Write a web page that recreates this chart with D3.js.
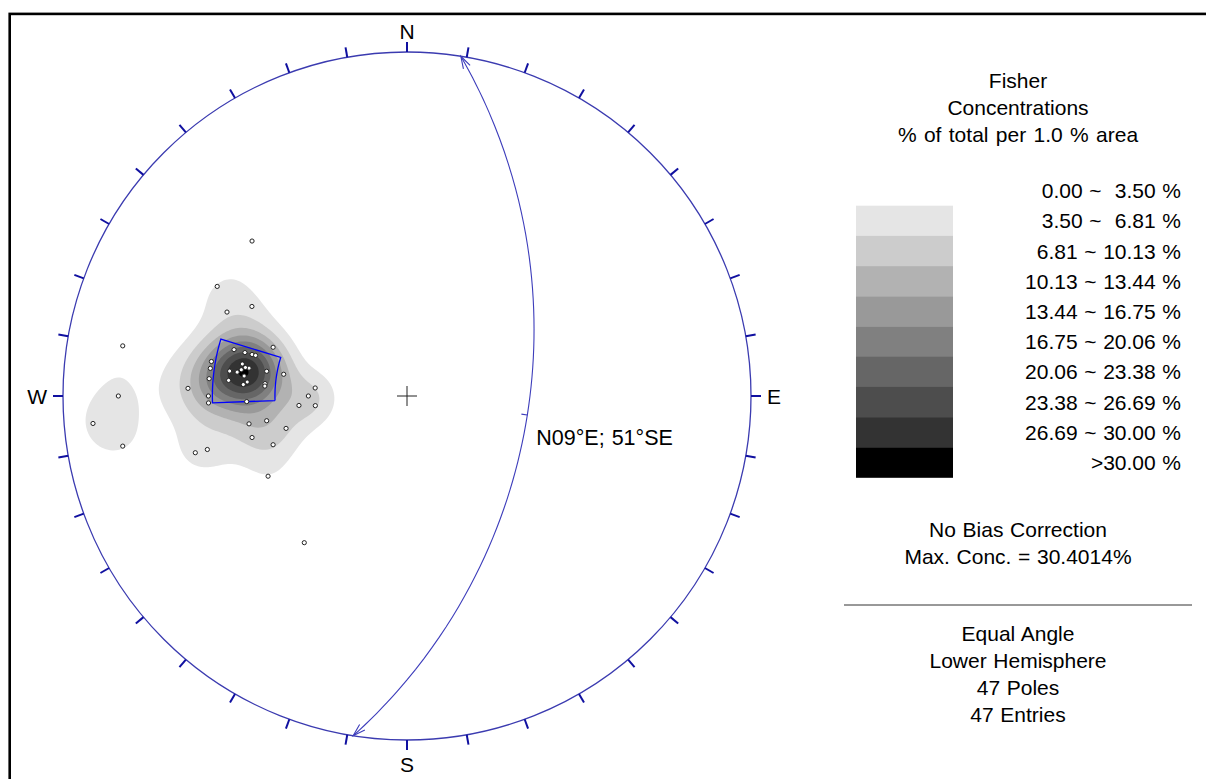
<!DOCTYPE html>
<html>
<head>
<meta charset="utf-8">
<script src="https://cdn.jsdelivr.net/npm/d3@7"></script>
<style>
  html, body { margin: 0; padding: 0; background: #fff; }
  svg { display: block; font-family: Arial, "Liberation Sans", sans-serif; }
  .pre { white-space: pre; }
</style>
</head>
<body>
<svg id="chart" width="1206" height="779"></svg>
<script>
// ---- Pole orientations (lower hemisphere), trend / plunge in degrees ----
const poleTrends = [300, 300, 295, 290, 285, 285, 285, 285, 280, 278,
                    280, 278, 280, 280, 275, 275, 275, 274, 275, 274,
                    272, 275, 270, 270, 268, 268, 265, 264, 260, 260,
                    255, 255, 250, 255, 255, 240, 215, 280, 270, 265,
                    260, 315, 279, 280, 278, 281, 277];
const polePlunges = [25, 35, 30, 45, 35, 38, 40, 41, 30, 30,
                     40, 35, 45, 50, 35, 30, 40, 39, 45, 45,
                     25, 60, 30, 58, 30, 40, 55, 60, 40, 45,
                     50, 40, 45, 28, 25, 40, 35, 10, 10,  5,
                     10, 25, 38, 39, 37, 38, 39];

// ---- Contour bands (% of total per 1.0 % area) ----
const contourLevels = [3.50, 6.81, 10.13, 13.44, 16.75, 20.06, 23.38, 26.69, 30.00];
const bandGrays = [229, 204, 178, 153, 128, 102, 77, 51, 0];
const legendLabels = ["0.00 ~  3.50 %", "3.50 ~  6.81 %", "6.81 ~ 10.13 %",
                      "10.13 ~ 13.44 %", "13.44 ~ 16.75 %", "16.75 ~ 20.06 %",
                      "20.06 ~ 23.38 %", "23.38 ~ 26.69 %", "26.69 ~ 30.00 %", ">30.00 %"];
const maxConcentration = 30.4014;

// ---- Mean plane and set window ----
const planeStrike = 9, planeDipDir = 99, planeDip = 51;
const planeLabel = "N09°E; 51°SE";
const windowTrends = [268, 287];
const windowPlunges = [31, 48];

// ---- Text blocks ----
const titleLines = ["Fisher", "Concentrations", "% of total per 1.0 % area"];
const noteLines = ["No Bias Correction", "Max. Conc. = " + maxConcentration.toFixed(4) + "%"];
const infoLines = ["Equal Angle", "Lower Hemisphere", "47 Poles", "47 Entries"];
const compassLabels = ["N", "E", "S", "W"];

// ---------------------------------------------------------------
const svg = d3.select("#chart");
const R = 344, cx = 407, cy = 396;
const rad = Math.PI / 180;

// Lower-hemisphere equal-angle net: lon = trend, lat = -plunge, centred on the nadir
const proj = d3.geoStereographic()
  .scale(R).translate([cx, cy]).rotate([0, 90]).precision(0.05);
const geo = d3.geoPath(proj);
const ll = (t, p) => [t, -p];

// outer frame
svg.append("rect").attr("x", 9.7).attr("y", 13.9).attr("width", 1300).attr("height", 900)
  .attr("fill", "none").attr("stroke", "#000").attr("stroke-width", 2.6);

// ---- Fisher density ----
const vec = (t, p) => [Math.cos(p * rad) * Math.sin(t * rad), Math.cos(p * rad) * Math.cos(t * rad), Math.sin(p * rad)];
const poleVecs = poleTrends.map((t, i) => vec(t, polePlunges[i]));
const N = poleVecs.length;

// percentage of all poles falling in 1 % of the hemisphere around direction v (axial Fisher kernel)
function density(v, K) {
  let s = 0;
  for (const p of poleVecs) {
    const c = Math.abs(v[0] * p[0] + v[1] * p[1] + v[2] * p[2]);
    s += Math.exp(K * (c - 1)) * (1 + Math.exp(-2 * K * c));
  }
  return K / (1 - Math.exp(-2 * K)) * s / N;
}

const step = 2;
const x0 = cx - R - 4, y0 = cy - R - 4;
const nx = Math.ceil((2 * R + 8) / step) + 1, ny = nx;
const cellDir = new Array(nx * ny);
for (let j = 0; j < ny; j++) {
  for (let i = 0; i < nx; i++) {
    const px = x0 + i * step, py = y0 + j * step;
    const dx = px - cx, dy = py - cy;
    if (dx * dx + dy * dy > R * R) { cellDir[i + j * nx] = null; continue; }
    const g = proj.invert([px, py]);
    cellDir[i + j * nx] = vec(g[0], -g[1]);
  }
}

// kernel concentration chosen so that the peak equals the reported maximum
let fisherK;
{
  const k0 = 100;
  let m0 = 0;
  const coarse = [];
  cellDir.forEach((v, idx) => {
    if (!v) return;
    const i = idx % nx, j = Math.floor(idx / nx);
    if (i % 2 || j % 2) return;
    const d = density(v, k0);
    coarse.push([v, d]);
    if (d > m0) m0 = d;
  });
  const probe = coarse.filter(c => c[1] > 0.5 * m0).map(c => c[0]);
  const peak = K => d3.max(probe, v => density(v, K));
  let lo = 10, hi = 250;
  for (let it = 0; it < 40; it++) {
    const mid = (lo + hi) / 2;
    if (peak(mid) > maxConcentration) hi = mid; else lo = mid;
  }
  fisherK = (lo + hi) / 2;
}

const grid = new Float64Array(nx * ny);
cellDir.forEach((v, idx) => { grid[idx] = v ? density(v, fisherK) : 0; });

const bands = d3.contours().size([nx, ny]).thresholds(contourLevels)(grid);
const gridPath = d3.geoPath(d3.geoIdentity().scale(step).translate([x0, y0]));
svg.append("defs").append("clipPath").attr("id", "net")
  .append("circle").attr("cx", cx).attr("cy", cy).attr("r", R);
svg.append("g").attr("clip-path", "url(#net)")
  .selectAll("path").data(bands).join("path")
  .attr("d", gridPath)
  .attr("fill", (d, i) => d3.rgb(bandGrays[i], bandGrays[i], bandGrays[i]))
  .attr("stroke", "none");

// ---- primitive circle and ticks ----
svg.append("circle").attr("cx", cx).attr("cy", cy).attr("r", R)
  .attr("fill", "none").attr("stroke", "#3b3bb0").attr("stroke-width", 1.3);
const tickAz = d3.range(0, 360, 10);
svg.append("g").selectAll("line").data(tickAz).join("line")
  .each(function (a) {
    const p = proj(ll(a, 0));
    const ux = (p[0] - cx) / R, uy = (p[1] - cy) / R;
    d3.select(this).attr("x1", p[0]).attr("y1", p[1])
      .attr("x2", p[0] + ux * 10).attr("y2", p[1] + uy * 10);
  })
  .attr("stroke", "#1010a0").attr("stroke-width", 2);

// compass letters
const compassPos = { N: [0, -R - 13, "middle"], S: [0, R + 32, "middle"], E: [R + 16, 8, "start"], W: [-R - 16, 8, "end"] };
svg.append("g").selectAll("text").data(compassLabels).join("text")
  .attr("x", d => cx + compassPos[d][0]).attr("y", d => cy + compassPos[d][1])
  .attr("text-anchor", d => compassPos[d][2])
  .attr("font-size", 21).attr("fill", "#000").text(d => d);

// centre cross
svg.append("path").attr("d", `M${cx - 10},${cy}H${cx + 10}M${cx},${cy - 10}V${cy + 10}`)
  .attr("stroke", "#222").attr("stroke-width", 1);

// ---- mean plane great circle ----
const strikeEnd = ll(planeStrike, 0), dipPt = ll(planeDipDir, planeDip), otherEnd = ll(planeStrike + 180, 0);
svg.append("path").datum({ type: "LineString", coordinates: [strikeEnd, dipPt, otherEnd] })
  .attr("d", geo).attr("fill", "none").attr("stroke", "#3d3dbb").attr("stroke-width", 1.1);

function arrowHead(tipLL, towardLL) {
  const tip = proj(tipLL);
  const back = proj(d3.geoInterpolate(tipLL, towardLL)(0.05));
  const ang = Math.atan2(back[1] - tip[1], back[0] - tip[0]);
  const L = 13, h = 17 * rad;
  const a = [tip[0] + L * Math.cos(ang - h), tip[1] + L * Math.sin(ang - h)];
  const b = [tip[0] + L * Math.cos(ang + h), tip[1] + L * Math.sin(ang + h)];
  svg.append("path").attr("d", `M${a}L${tip}L${b}`)
    .attr("fill", "none").attr("stroke", "#3d3dbb").attr("stroke-width", 1.1);
}
arrowHead(strikeEnd, dipPt);
arrowHead(otherEnd, dipPt);

// dip tick at the mid point, pointing to the centre, and the plane label
{
  const m = proj(dipPt);
  const d = Math.hypot(m[0] - cx, m[1] - cy);
  svg.append("line").attr("x1", m[0]).attr("y1", m[1])
    .attr("x2", m[0] - (m[0] - cx) / d * 6).attr("y2", m[1] - (m[1] - cy) / d * 6)
    .attr("stroke", "#3d3dbb").attr("stroke-width", 1.1);
  svg.append("text").attr("x", m[0] + 9).attr("y", m[1] + 30)
    .attr("font-size", 21.5).attr("word-spacing", 1).attr("fill", "#000").text(planeLabel);
}

// ---- set window ----
{
  const [t0, t1] = windowTrends, [p0, p1] = windowPlunges;
  const coords = [];
  d3.range(t0, t1 + 0.001, 0.5).forEach(t => coords.push(ll(t, p1)));
  d3.range(t1, t0 - 0.001, -0.5).forEach(t => coords.push(ll(t, p0)));
  coords.push(ll(t0, p1));
  svg.append("path").datum({ type: "LineString", coordinates: coords })
    .attr("d", geo).attr("fill", "none").attr("stroke", "#0000ff").attr("stroke-width", 1.3);
}

// ---- poles ----
svg.append("g").selectAll("circle").data(poleTrends.map((t, i) => proj(ll(t, polePlunges[i]))))
  .join("circle").attr("cx", d => d[0]).attr("cy", d => d[1]).attr("r", 2.1)
  .attr("fill", "#fff").attr("stroke", "#222").attr("stroke-width", 1);

// ---- legend ----
const lx = 1018, fs = 21;
svg.append("g").selectAll("text").data(titleLines).join("text")
  .attr("x", lx).attr("y", (d, i) => 88 + i * 27).attr("text-anchor", "middle")
  .attr("font-size", fs).attr("word-spacing", 1.5).attr("class", "pre").text(d => d);

const swTop = 205.7, swH = 30.2;
svg.append("g").selectAll("rect").data(contourLevels).join("rect")
  .attr("x", 856).attr("width", 97)
  .attr("y", (d, i) => swTop + i * swH).attr("height", swH + 0.3)
  .attr("fill", (d, i) => d3.rgb(bandGrays[i], bandGrays[i], bandGrays[i]));
svg.append("g").selectAll("text").data(legendLabels).join("text")
  .attr("x", 1181).attr("y", (d, i) => swTop - swH / 2 + i * swH + 7.5)
  .attr("text-anchor", "end").attr("font-size", fs).attr("word-spacing", 0.8)
  .attr("class", "pre").text(d => d);

svg.append("g").selectAll("text").data(noteLines).join("text")
  .attr("x", lx).attr("y", (d, i) => 536.5 + i * 27).attr("text-anchor", "middle")
  .attr("font-size", fs).attr("word-spacing", 0.8).text(d => d);

svg.append("line").attr("x1", 844).attr("x2", 1192).attr("y1", 605).attr("y2", 605)
  .attr("stroke", "#333").attr("stroke-width", 1);

svg.append("g").selectAll("text").data(infoLines).join("text")
  .attr("x", lx).attr("y", (d, i) => 641 + i * 27).attr("text-anchor", "middle")
  .attr("font-size", fs).attr("word-spacing", 0.8).text(d => d);
</script>
</body>
</html>
